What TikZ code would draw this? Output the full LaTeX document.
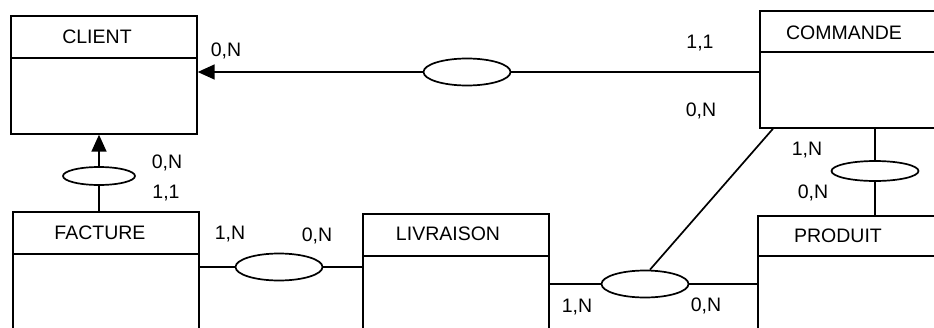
\documentclass[tikz,border=0pt]{standalone}
\usepackage{fontspec}
\setmainfont{Liberation Sans}
\usetikzlibrary{arrows.meta,shapes.geometric}

\begin{document}
\begin{tikzpicture}[x=1pt,y=-1pt,line width=1.7pt,
  entity/.style={draw,rectangle,anchor=north west,minimum width=186pt,minimum height=130pt,inner sep=0pt},
  title/.style={font=\fontsize{19.5}{22}\selectfont,inner sep=0pt},
  relation/.style={draw,ellipse,minimum width=87pt,minimum height=27pt,inner sep=0pt},
  card/.style={font=\fontsize{19.5}{22}\selectfont,inner sep=0pt},
  tip/.style={-{Triangle[length=17pt,width=15pt]}}]

\clip (0,0) rectangle (934,327);

% entities
\node[entity,minimum height=118pt] (client) at (10,15) {};
\draw ([yshift=-43pt]client.north west) -- ([yshift=-43pt]client.north east);
\node[title] (clientname) at (97,37) {CLIENT};

\node[entity,minimum height=117pt] (commande) at (759,10) {};
\draw ([yshift=-42pt]commande.north west) -- ([yshift=-42pt]commande.north east);
\node[title] (commandename) at (844,33) {COMMANDE};

\node[entity] (facture) at (12,211) {};
\draw ([yshift=-43pt]facture.north west) -- ([yshift=-43pt]facture.north east);
\node[title] (facturename) at (100,233) {FACTURE};

\node[entity] (livraison) at (362,213) {};
\draw ([yshift=-43pt]livraison.north west) -- ([yshift=-43pt]livraison.north east);
\node[title] (livraisonname) at (448,234) {LIVRAISON};

\node[entity] (produit) at (757,215) {};
\draw ([yshift=-41pt]produit.north west) -- ([yshift=-41pt]produit.north east);
\node[title] (produitname) at (838,236) {PRODUIT};

% relations
\node[relation] (passe) at (467,72) {};
\node[relation,minimum width=72pt,minimum height=18pt] (paie) at (99,176) {};
\node[relation] (regroupe) at (279,267) {};
\node[relation] (livre) at (645,284) {};
\node[relation,minimum height=20pt] (contient) at (875,171) {};

% links
\draw[tip] (passe.west) -- (passe.west -| client.east);
\draw (passe.east) -- (passe.east -| commande.west);

\draw[tip] (paie.north) -- (paie.north |- client.south);
\draw (paie.south) -- (paie.south |- facture.north);

\draw (regroupe.west -| facture.east) -- (regroupe.west);
\draw (regroupe.east) -- (regroupe.east -| livraison.west);

\draw (livre.west -| livraison.east) -- (livre.west);
\draw (livre.east) -- (livre.east -| produit.west);
\draw ([xshift=5pt]livre.north) -- ([xshift=14pt]commande.south west);

\draw (contient.north) -- (contient.north |- commande.south);
\draw (contient.south) -- (contient.south |- produit.north);

% cardinalities
\node[card] (cpasse1) at (226,51) {0,N};
\node[card] (cpasse2) at (700,43) {1,1};
\node[card] (clivre3) at (701,111) {0,N};
\node[card] (cpaie1) at (167,163) {0,N};
\node[card] (cpaie2) at (166,193) {1,1};
\node[card] (cregroupe1) at (230,234) {1,N};
\node[card] (cregroupe2) at (317,236) {0,N};
\node[card] (clivre1) at (577,307) {1,N};
\node[card] (clivre2) at (706,306) {0,N};
\node[card] (ccontient1) at (807,150) {1,N};
\node[card] (ccontient2) at (813,193) {0,N};

\end{tikzpicture}
\end{document}
